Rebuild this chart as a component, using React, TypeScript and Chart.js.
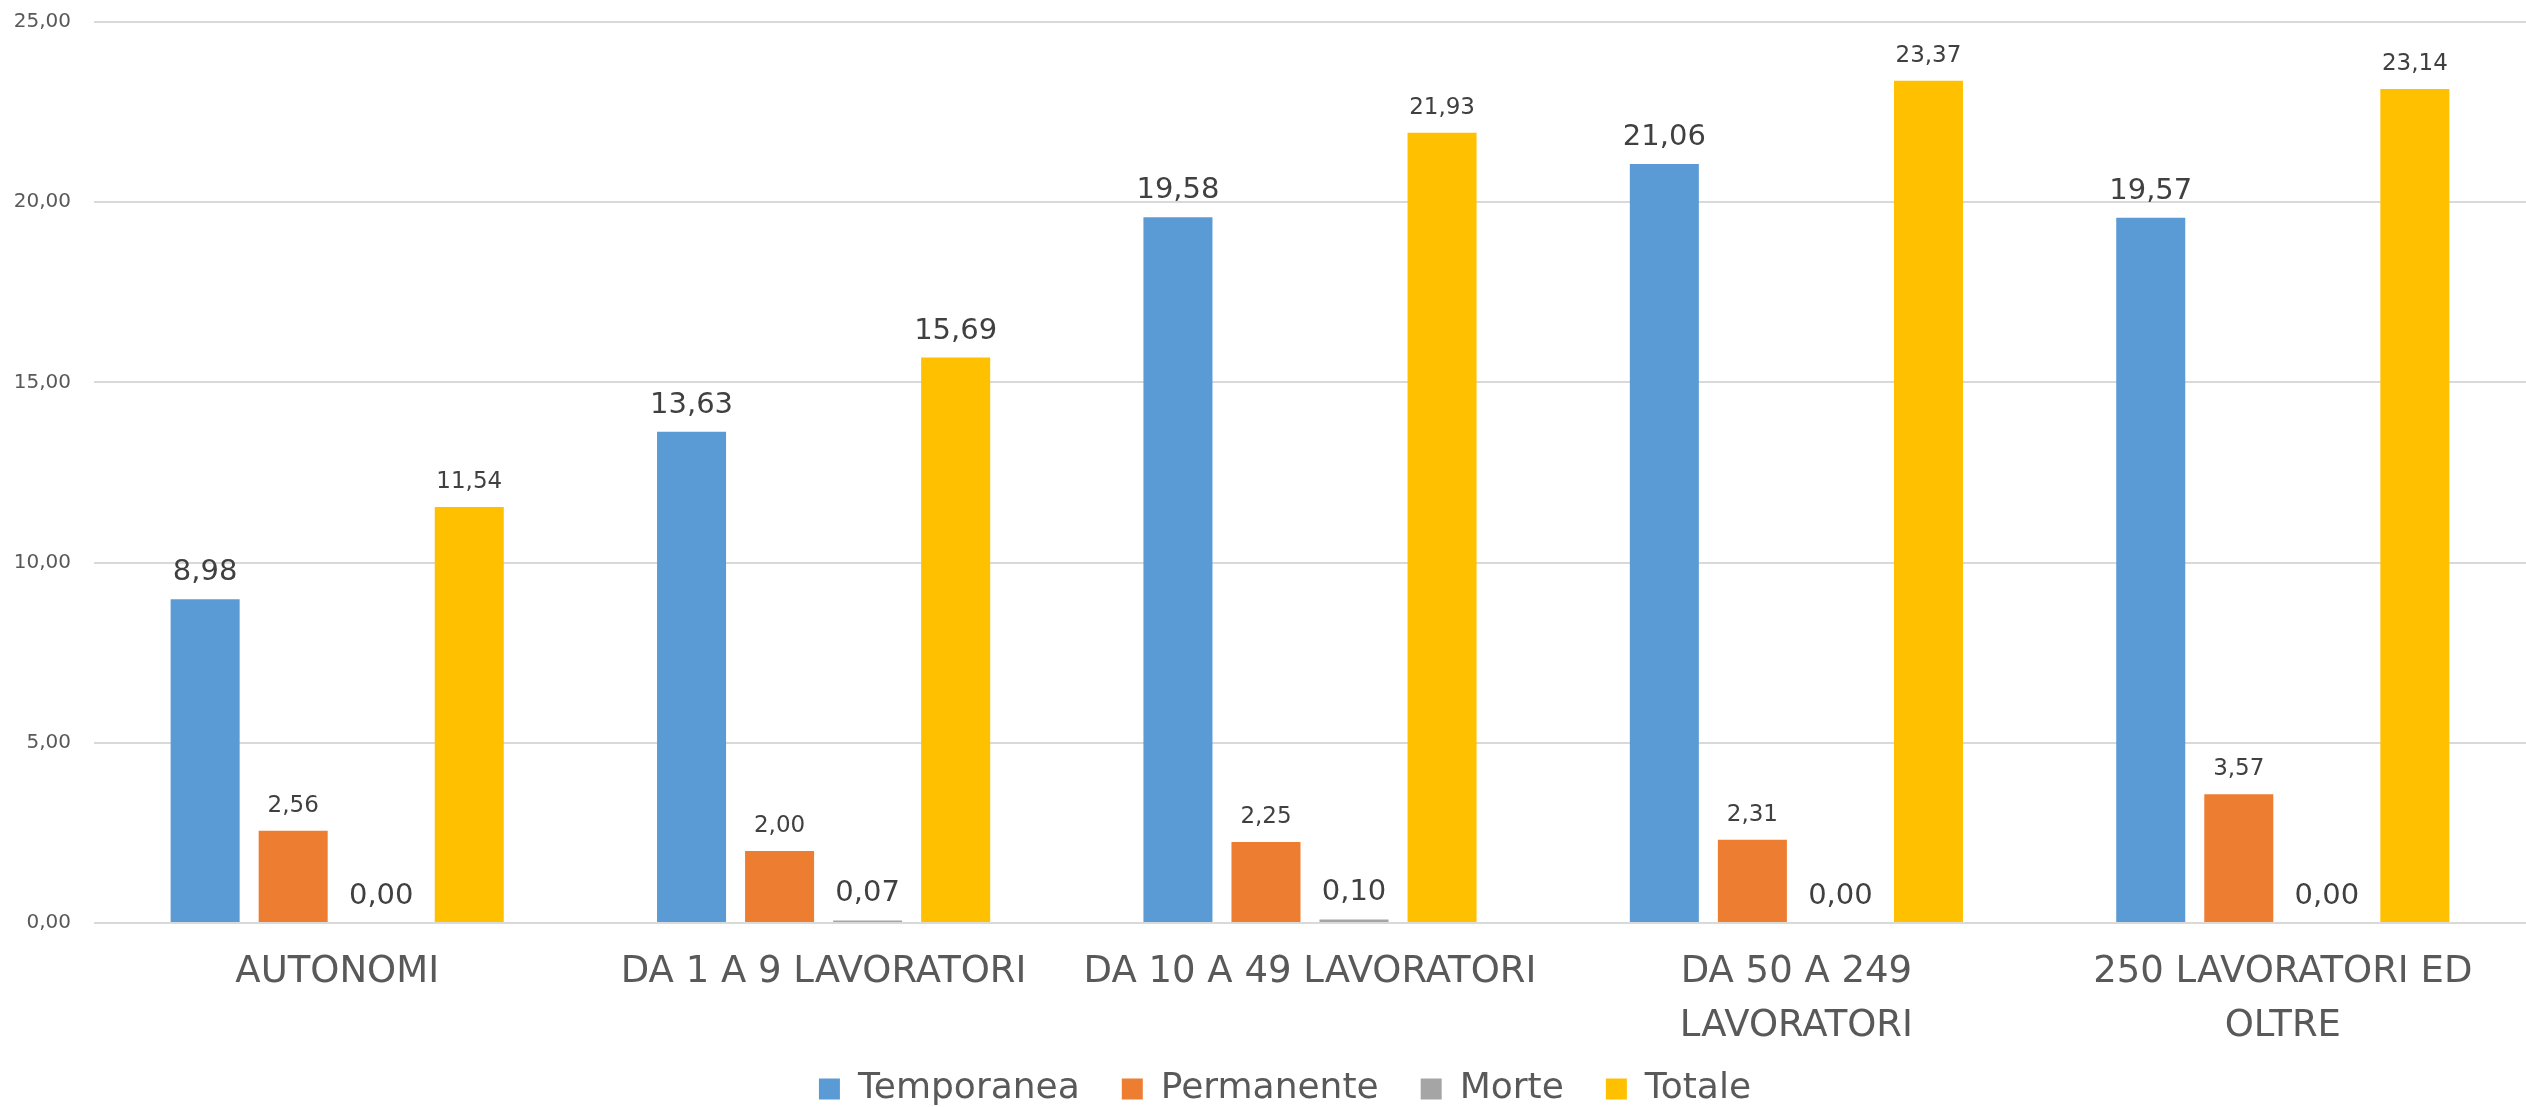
import React, { useEffect, useRef } from "react";
import { Chart, registerables } from "chart.js";

Chart.register(...registerables);

const categories: (string | string[])[] = [
  "AUTONOMI",
  "DA 1 A 9 LAVORATORI",
  "DA 10 A 49 LAVORATORI",
  ["DA 50 A 249", "LAVORATORI"],
  ["250 LAVORATORI ED", "OLTRE"],
];

const temporanea = [8.98, 13.63, 19.58, 21.06, 19.57];
const permanente = [2.56, 2.0, 2.25, 2.31, 3.57];
const morte = [0.0, 0.07, 0.1, 0.0, 0.0];
const totale = [11.54, 15.69, 21.93, 23.37, 23.14];

const seriesNames = ["Temporanea", "Permanente", "Morte", "Totale"];
const seriesColors = ["#5B9BD5", "#ED7D31", "#A5A5A5", "#FFC000"];

// font size (px) of each value label, per series
const labelSizes = [
  [29, 29, 29, 29, 29],
  [23, 23, 23, 23, 23],
  [29, 29, 29, 29, 29],
  [23, 29, 23, 23, 23],
];

const yMin = 0;
const yMax = 25;
const yStep = 5;

const FONT = '"DejaVu Sans", Verdana, sans-serif';

const fmt = (v: number) => v.toFixed(2).replace(".", ",");

const valueLabels = {
  id: "valueLabels",
  afterDatasetsDraw(chart: any) {
    const ctx = chart.ctx;
    chart.data.datasets.forEach((ds: any, di: number) => {
      const meta = chart.getDatasetMeta(di);
      meta.data.forEach((el: any, i: number) => {
        const v = ds.data[i] as number;
        ctx.save();
        ctx.font = `${labelSizes[di][i]}px ${FONT}`;
        ctx.fillStyle = "#404040";
        ctx.textAlign = "center";
        ctx.textBaseline = "alphabetic";
        ctx.fillText(fmt(v), el.x, el.y - 19);
        ctx.restore();
      });
    });
  },
};

// move the legend box after layout so it sits closer to the axis labels
const LEGEND_UP = 19;
const LEGEND_RIGHT = 17;
const legendNudge = {
  id: "legendNudge",
  afterLayout(chart: any) {
    const lg = chart.legend;
    if (!lg) return;
    lg.top -= LEGEND_UP;
    lg.bottom -= LEGEND_UP;
    lg.left += LEGEND_RIGHT;
    lg.right += LEGEND_RIGHT;
  },
};

export default function App() {
  const ref = useRef<HTMLCanvasElement | null>(null);

  useEffect(() => {
    if (!ref.current) return;
    const data = [temporanea, permanente, morte, totale];
    const chart = new Chart(ref.current, {
      type: "bar",
      data: {
        labels: categories,
        datasets: seriesNames.map((name, i) => ({
          label: name,
          data: data[i],
          backgroundColor: seriesColors[i],
          borderWidth: 0,
          categoryPercentage: 0.724,
          barPercentage: 0.784,
        })),
      },
      options: {
        responsive: false,
        animation: false,
        devicePixelRatio: 1,
        layout: { padding: { top: 22, left: 10, right: 0, bottom: 0 } },
        plugins: {
          legend: {
            display: true,
            position: "bottom",
            labels: {
              boxWidth: 21,
              boxHeight: 21,
              padding: 42,
              color: "#595959",
              font: { family: FONT, size: 36 },
            },
          },
          tooltip: { enabled: false },
        },
        scales: {
          x: {
            grid: { display: false, drawTicks: false },
            border: { display: false },
            ticks: {
              color: "#595959",
              font: { family: FONT, size: 37, lineHeight: 1.45 },
              padding: 23,
              maxRotation: 0,
              minRotation: 0,
              autoSkip: false,
            },
            afterFit(scale: any) {
              scale.height = 125;
            },
          },
          y: {
            min: yMin,
            max: yMax,
            grid: { color: "#d9d9d9", lineWidth: 2, drawTicks: false },
            border: { display: false },
            ticks: {
              stepSize: yStep,
              color: "#595959",
              font: { family: FONT, size: 20 },
              padding: 23,
              callback: (v: any) => fmt(Number(v)),
            },
            afterFit(scale: any) {
              scale.width = 84;
              scale.paddingTop = 0;
              scale.paddingBottom = 0;
            },
          },
        },
      },
      plugins: [valueLabels, legendNudge],
    });
    return () => chart.destroy();
  }, []);

  return (
    <div
      style={{
        position: "absolute",
        left: 0,
        top: 0,
        width: 2526,
        height: 1107,
        overflow: "hidden",
        background: "#ffffff",
      }}
    >
      <canvas ref={ref} width={2526} height={1136} style={{ display: "block" }} />
    </div>
  );
}
